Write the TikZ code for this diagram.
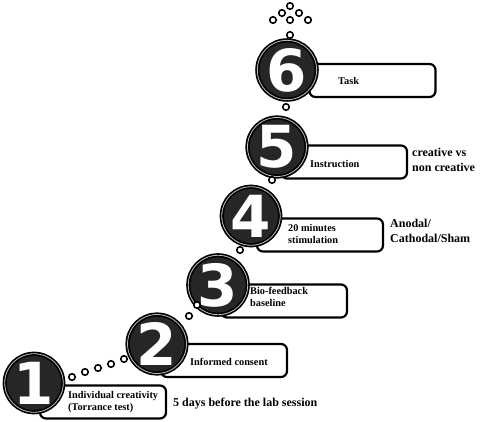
\documentclass[tikz,border=0pt]{standalone}
\usepackage{fontspec}
\setmainfont{Liberation Serif}
\newfontfamily\digitfont{DejaVu Sans}
\usepackage{tikz}
\usetikzlibrary{positioning}
\definecolor{disc}{HTML}{262626}

\tikzset{
  stepdisc/.style={circle, draw=black, double=white!75!black, double distance=0.8pt,
    line width=1.7pt, fill=disc, minimum size=56pt, inner sep=0pt, text=white,
    font=\digitfont\bfseries\fontsize{58}{58}\selectfont},
  stepbox/.style={draw=black, line width=2.2pt, rounded corners=6pt, fill=white,
    minimum width=126pt, minimum height=33pt, inner sep=0pt},
  hole/.style={circle, draw=black, line width=1.6pt, fill=white, minimum size=6.5pt, inner sep=0pt},
  boxtext/.style={anchor=west, align=left, inner sep=0pt, font=\bfseries\fontsize{10.3}{12.5}\selectfont},
  sidetext/.style={anchor=west, align=left, inner sep=0pt, font=\bfseries\fontsize{12}{15}\selectfont}
}

\begin{document}
\begin{tikzpicture}[x=1pt, y=-1pt]
\useasboundingbox (0,0) rectangle (480,422);

% boxes behind the discs
\node[stepbox] (b1) at (103,402) {};
\node[stepbox] (b2) at (224,360.5) {};
\node[stepbox] (b3) at (284,301) {};
\node[stepbox] (b4) at (320,235) {};
\node[stepbox] (b5) at (344,162) {};
\node[stepbox] (b6) at (372.5,80.5) {};

% discs
\node[stepdisc] (s1) at (34,383) {1};
\node[stepdisc] (s2) at (157,344) {2};
\node[stepdisc] (s3) at (218,285) {3};
\node[stepdisc] (s4) at (251,216) {4};
\node[stepdisc] (s5) at (277,147) {5};
\node[stepdisc] (s6) at (287,70) {6};

% little rings between the steps
\foreach \x/\y [count=\i] in {72/377, 85/372, 98/368, 111/364, 124/359,
    189/316, 197/305, 240/250, 272/180, 286/107, 290/35,
    290/6, 282/13, 299/13, 273/20, 290/20, 308/20} {
  \node[hole] (h\i) at (\x,\y) {};
}

% texts
\node[boxtext] (t1) at (68,402) {Individual creativity\\(Torrance test)};
\node[boxtext] (t2) at (190,362) {Informed consent};
\node[boxtext] (t3) at (250,297) {Bio-feedback\\baseline};
\node[boxtext] (t4) at (288,234) {20 minutes\\stimulation};
\node[boxtext] (t5) at (310,164) {Instruction};
\node[boxtext] (t6) at (338,81) {Task};

\node[sidetext] (n1) at (173,404) {5 days before the lab session};
\node[sidetext] (n4) at (390,231) {Anodal/\\Cathodal/Sham};
\node[sidetext] (n5) at (412,160) {creative vs\\non creative};
\end{tikzpicture}
\end{document}
